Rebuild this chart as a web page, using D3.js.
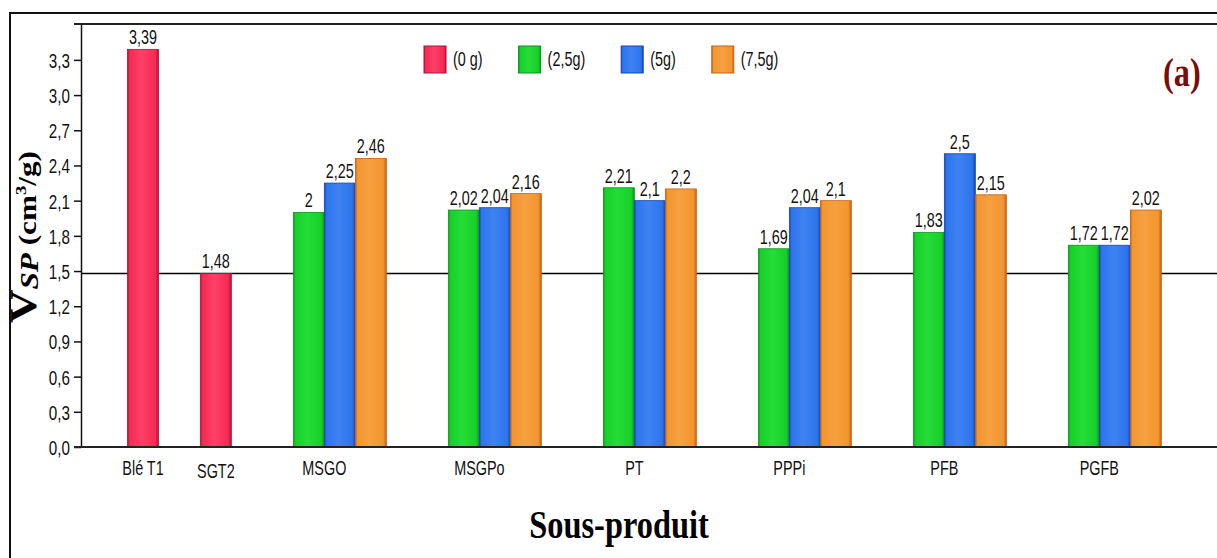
<!DOCTYPE html>
<html>
<head>
<meta charset="utf-8">
<style>
  body { margin: 0; background: #fff; }
  .num { font-family: "Liberation Sans", Arial, sans-serif; fill: #111; }
  .serif { font-family: "Liberation Serif", "Times New Roman", serif; font-weight: bold; }
</style>
</head>
<body>
<script src="https://cdn.jsdelivr.net/npm/d3@7/dist/d3.min.js"></script>
<script>
// data (null = no bar)
var categories = ["Blé T1", "SGT2", "MSGO", "MSGPo", "PT", "PPPi", "PFB", "PGFB"];
var seriesNames = ["(0 g)", "(2,5g)", "(5g)", "(7,5g)"];
var v0g  = [3.39, 1.48, null, null, null, null, null, null];
var v25g = [null, null, 2.00, 2.02, 2.21, 1.69, 1.83, 1.72];
var v5g  = [null, null, 2.25, 2.04, 2.10, 2.04, 2.50, 1.72];
var v75g = [null, null, 2.46, 2.16, 2.20, 2.10, 2.15, 2.02];
var yTicks = [0, 0.3, 0.6, 0.9, 1.2, 1.5, 1.8, 2.1, 2.4, 2.7, 3.0, 3.3];
var refValue = 1.48;

var series = [v0g, v25g, v5g, v75g];
var colors = [
  {base: "#f42a52", light: "#ff4068", dark: "#b3103a"},
  {base: "#16d02a", light: "#26dc38", dark: "#0d961b"},
  {base: "#2d74ec", light: "#3f82f2", dark: "#1446b6"},
  {base: "#f2962f", light: "#f6a040", dark: "#c4621a"}
];

var W = 1217, H = 558;
var plotLeft = 81, plotTop = 24, plotBottom = 447;
var slot = 31;
var squeeze = 0.8;   // the source fonts look condensed

var svg = d3.select("body").append("svg")
    .attr("width", W)
    .attr("height", H);

// narrow text helper: place at (px,py) and squeeze horizontally
function narrow(sel, px, py) {
  sel.attr("transform", function(d, i) {
    return "translate(" + px(d, i) + "," + py(d, i) + ") scale(" + squeeze + ",1.1)";
  });
}

var defs = svg.append("defs");
colors.forEach(function(c, i) {
  var g = defs.append("linearGradient").attr("id", "grad" + i)
      .attr("x1", "0%").attr("x2", "100%").attr("y1", "0%").attr("y2", "0%");
  g.append("stop").attr("offset", "0%").attr("stop-color", c.dark);
  g.append("stop").attr("offset", "7%").attr("stop-color", c.base);
  g.append("stop").attr("offset", "45%").attr("stop-color", c.light);
  g.append("stop").attr("offset", "90%").attr("stop-color", c.base);
  g.append("stop").attr("offset", "100%").attr("stop-color", c.dark);
});

// outer frame
svg.append("rect")
    .attr("x", 10).attr("y", 13)
    .attr("width", W + 20).attr("height", H + 20)
    .attr("fill", "none").attr("stroke", "#111").attr("stroke-width", 2);

var y = d3.scaleLinear().domain([0, 3.606]).range([plotBottom, plotTop]);

// slot layout: each category uses slots up to its last non-empty series,
// one empty slot between categories (a bit more between two single bars)
var nSlots = categories.map(function(c, i) {
  var last = 0;
  series.forEach(function(s, j) { if (s[i] != null) last = j; });
  return last + 1;
});
var starts = [];
var cursor = 1.5;
nSlots.forEach(function(n, i) {
  starts.push({start: cursor, n: n});
  var extra = (n === 1 && nSlots[i + 1] === 1) ? 0.35 : 0;
  cursor += n + 1 + extra;
});

var x = d3.scaleLinear().domain([0, 40]).range([plotLeft, plotLeft + 40 * slot]);

// top frame line and reference line
svg.append("line")
    .attr("x1", 74).attr("x2", W + 5).attr("y1", plotTop).attr("y2", plotTop)
    .attr("stroke", "#222").attr("stroke-width", 2);

svg.append("line")
    .attr("x1", plotLeft).attr("x2", W + 5)
    .attr("y1", y(refValue)).attr("y2", y(refValue))
    .attr("stroke", "#000").attr("stroke-width", 1.5);

// bars
var bars = [];
series.forEach(function(s, j) {
  s.forEach(function(v, i) {
    if (v != null) bars.push({cat: i, ser: j, value: v});
  });
});

var bw = x(1) - x(0);
function slotOf(d) { return starts[d.cat].n === 1 ? 0 : d.ser; }

svg.selectAll(".bar")
    .data(bars)
  .enter().append("rect")
    .attr("class", "bar")
    .attr("x", function(d) { return x(starts[d.cat].start + slotOf(d)); })
    .attr("y", function(d) { return y(d.value); })
    .attr("width", bw)
    .attr("height", function(d) { return y(0) - y(d.value); })
    .attr("fill", function(d) { return "url(#grad" + d.ser + ")"; })
    .attr("stroke", function(d) { return colors[d.ser].dark; })
    .attr("stroke-width", 0.8);

svg.selectAll(".vlab")
    .data(bars)
  .enter().append("text")
    .attr("class", "vlab num")
    .attr("text-anchor", "middle")
    .style("font-size", "18px")
    .text(function(d) { return String(d.value).replace(".", ","); })
    .call(narrow,
      function(d) { return x(starts[d.cat].start + slotOf(d) + 0.5); },
      function(d) { return y(d.value) - 5; });

// y axis
var yAxis = svg.append("g")
    .attr("transform", "translate(" + plotLeft + ",0)")
    .call(d3.axisLeft(y)
      .tickValues(yTicks)
      .tickSize(7)
      .tickSizeOuter(0)
      .tickPadding(4)
      .tickFormat(function(d) { return d.toFixed(1).replace(".", ","); }));
yAxis.select(".domain").attr("stroke", "#111").attr("stroke-width", 1.5);
yAxis.selectAll(".tick line").attr("stroke", "#111").attr("stroke-width", 1.5);
yAxis.selectAll(".tick text")
    .attr("class", "num")
    .style("font-size", "19px")
    .attr("fill", "#111")
    .attr("dy", null)
    .attr("dominant-baseline", "central")
    .call(narrow, function() { return -11; }, function() { return 0; })
    .attr("x", null);

// x axis line
svg.append("line")
    .attr("x1", 74).attr("x2", W + 5).attr("y1", plotBottom).attr("y2", plotBottom)
    .attr("stroke", "#222").attr("stroke-width", 2);

svg.selectAll(".xlab")
    .data(categories)
  .enter().append("text")
    .attr("class", "xlab num")
    .attr("text-anchor", "middle")
    .style("font-size", "18px")
    .text(function(d) { return d; })
    .call(narrow,
      function(d, i) { return x(starts[i].start + starts[i].n / 2); },
      function(d, i) { return i === 1 ? 478 : 475; });

// legend
var lx = 424;
seriesNames.forEach(function(name, i) {
  svg.append("rect")
      .attr("x", lx).attr("y", 46)
      .attr("width", 22).attr("height", 27)
      .attr("fill", "url(#grad" + i + ")")
      .attr("stroke", colors[i].dark).attr("stroke-width", 1);
  var t = svg.append("text")
      .datum(name)
      .attr("class", "num")
      .style("font-size", "18px")
      .text(name)
      .call(narrow, function() { return lx + 29; }, function() { return 66; });
  lx = lx + 29 + t.node().getComputedTextLength() * squeeze + 36;
});

// panel tag
svg.append("text")
    .attr("class", "serif")
    .attr("transform", "translate(1163,86) scale(0.9,1.1)")
    .attr("fill", "#7b0c0c")
    .style("font-size", "36px")
    .text("(a)");

// axis titles
svg.append("text")
    .attr("class", "serif")
    .attr("transform", "translate(619,538) scale(0.9,1.12)")
    .attr("text-anchor", "middle")
    .attr("fill", "#000")
    .style("font-size", "36px")
    .text("Sous-produit");

var yl = svg.append("text")
    .attr("class", "serif")
    .attr("transform", "translate(36,237) rotate(-90) scale(1.25,1)")
    .attr("text-anchor", "middle")
    .attr("fill", "#000");
yl.append("tspan").style("font-size", "37px").text("V");
yl.append("tspan").style("font-size", "25px").style("font-style", "italic").attr("dy", 2).text("SP");
yl.append("tspan").style("font-size", "25px").attr("dy", -2).text(" (cm");
yl.append("tspan").style("font-size", "15px").attr("dy", -10).text("3");
yl.append("tspan").style("font-size", "25px").attr("dy", 10).text("/g)");
</script>
</body>
</html>
